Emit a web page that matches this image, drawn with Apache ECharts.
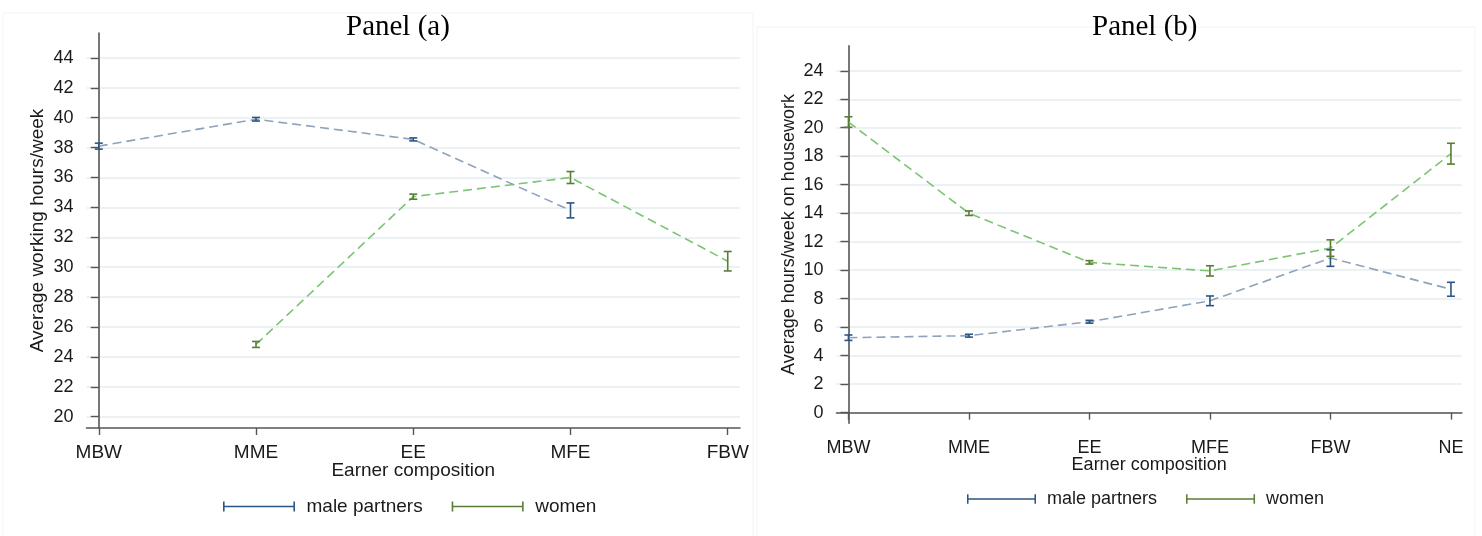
<!DOCTYPE html>
<html>
<head>
<meta charset="utf-8">
<script src="https://cdn.jsdelivr.net/npm/echarts@6/dist/echarts.min.js"></script>
<style>
html,body{margin:0;padding:0;background:#fff;}
#chart{width:1482px;height:536px;}
</style>
</head>
<body>
<div id="chart"></div>
<script>
// ---- data ----
const catsA = ['MBW', 'MME', 'EE', 'MFE', 'FBW'];
const maleA = [38.1, 39.9, 38.55, 33.8, null];
const maleAErr = [0.2, 0.12, 0.1, 0.5, null];
const womenA = [null, 24.83, 34.72, 36.0, 30.4];
const womenAErr = [null, 0.2, 0.17, 0.4, 0.65];
const yTicksA = [20, 22, 24, 26, 28, 30, 32, 34, 36, 38, 40, 42, 44];

const catsB = ['MBW', 'MME', 'EE', 'MFE', 'FBW', 'NE'];
const maleB = [5.26, 5.4, 6.38, 7.85, 10.85, 8.66];
const maleBErr = [0.19, 0.1, 0.1, 0.34, 0.58, 0.49];
const womenB = [20.4, 14.0, 10.55, 9.95, 11.55, 18.18];
const womenBErr = [0.37, 0.16, 0.12, 0.36, 0.58, 0.73];
const yTicksB = [0, 2, 4, 6, 8, 10, 12, 14, 16, 18, 20, 22, 24];

const seriesNames = ['male partners', 'women'];
const titles = ['Panel (a)', 'Panel (b)'];
const yNames = ['Average working hours/week', 'Average hours/week on housework'];
const xName = 'Earner composition';

// ---- styles ----
const maleLine = '#8ea2bb', maleBar = '#2b5683';
const womenLine = '#7cc474', womenBar = '#5a7d35';
const axisCol = '#555555', gridCol = '#e6eef1', textCol = '#1a1a1a';
const legendIcon = 'path://M0,4.2 L72,4.2 L72,5.8 L0,5.8 Z M0,0 L1.6,0 L1.6,10 L0,10 Z M70.4,0 L72,0 L72,10 L70.4,10 Z';

function pts(vals) { return vals.map((v, i) => v == null ? [i, null] : [i, v]); }
function errs(vals, e) {
  const out = [];
  vals.forEach((v, i) => { if (v != null) out.push([i, v - e[i], v + e[i]]); });
  return out;
}
function errRender(color) {
  return function (params, api) {
    const lo = api.coord([api.value(0), api.value(1)]);
    const hi = api.coord([api.value(0), api.value(2)]);
    const w = 4;
    const st = { stroke: color, lineWidth: 1.6 };
    return {
      type: 'group',
      children: [
        { type: 'line', shape: { x1: lo[0], y1: lo[1], x2: hi[0], y2: hi[1] }, style: st },
        { type: 'line', shape: { x1: lo[0] - w, y1: lo[1], x2: lo[0] + w, y2: lo[1] }, style: st },
        { type: 'line', shape: { x1: hi[0] - w, y1: hi[1], x2: hi[0] + w, y2: hi[1] }, style: st }
      ]
    };
  };
}

function xAxisDef(idx, cats, min, max, fs, nameGap, margin) {
  const ticks = cats.map((c, i) => i);
  return {
    type: 'value', gridIndex: idx, min: min, max: max,
    name: xName, nameLocation: 'middle', nameGap: nameGap, nameMoveOverlap: false,
    nameTextStyle: { fontFamily: 'Liberation Sans', fontSize: fs, color: textCol },
    axisLine: { show: true, lineStyle: { color: axisCol, width: 1.6 } },
    axisTick: { show: true, length: 7, customValues: ticks, lineStyle: { color: axisCol, width: 1.4 } },
    axisLabel: { customValues: ticks, margin: margin, fontFamily: 'Liberation Sans', fontSize: fs, color: textCol,
      formatter: v => cats[Math.round(v)] },
    splitLine: { show: false }
  };
}
function yAxisDef(idx, ticks, min, max, name, fs, nameFs, nameGap, margin) {
  return {
    type: 'value', gridIndex: idx, min: min, max: max,
    name: name, nameLocation: 'middle', nameGap: nameGap, nameMoveOverlap: false,
    nameTextStyle: { fontFamily: 'Liberation Sans', fontSize: nameFs, color: textCol },
    axisLine: { show: true, lineStyle: { color: axisCol, width: 1.6 } },
    axisTick: { show: true, length: 8, customValues: ticks, lineStyle: { color: axisCol, width: 1.4 } },
    axisLabel: { customValues: ticks, margin: margin, fontFamily: 'Liberation Sans', fontSize: fs, color: textCol },
    splitLine: { show: true, lineStyle: { color: gridCol, width: 1.5 } }
  };
}
function lineSeries(name, data, color, idx) {
  return {
    name: name, type: 'line', xAxisIndex: idx, yAxisIndex: idx, data: data,
    showSymbol: false, symbol: 'none', connectNulls: false,
    lineStyle: { color: color, width: 1.6, type: [9, 5] }, itemStyle: { color: color }, z: 2
  };
}
function errSeries(name, data, color, idx) {
  return {
    name: name + ' ', type: 'custom', xAxisIndex: idx, yAxisIndex: idx, data: data,
    renderItem: errRender(color), z: 3, silent: true
  };
}
function legendDef(left, top, w, gap, fs) {
  return {
    left: left, top: top, padding: 0, itemWidth: w, itemHeight: 10, itemGap: gap,
    textStyle: { fontFamily: 'Liberation Sans', fontSize: fs, color: textCol, padding: [0, 0, 0, 6] },
    data: [
      { name: seriesNames[0], icon: legendIcon, itemStyle: { color: maleBar } },
      { name: seriesNames[1], icon: legendIcon, itemStyle: { color: womenBar } }
    ]
  };
}

const chart = echarts.init(document.getElementById('chart'), null, { renderer: 'canvas' });
chart.setOption({
  backgroundColor: '#ffffff',
  animation: false,
  graphic: [
    { type: 'rect', shape: { x: 3, y: 13, width: 750, height: 530 }, style: { fill: 'none', stroke: '#f3f3f3', lineWidth: 1 }, z: -10 },
    { type: 'rect', shape: { x: 757, y: 27, width: 718, height: 515 }, style: { fill: 'none', stroke: '#f3f3f3', lineWidth: 1 }, z: -10 }
  ],
  title: [
    { text: titles[0], left: 341, top: 8, textStyle: { fontFamily: 'Liberation Serif', fontWeight: 'normal', fontSize: 29, color: '#000' } },
    { text: titles[1], left: 1087, top: 8, textStyle: { fontFamily: 'Liberation Serif', fontWeight: 'normal', fontSize: 29, color: '#000' } }
  ],
  grid: [
    { left: 86.5, right: 742, top: 33, bottom: 108 },
    { left: 836.5, right: 20.2, top: 45.7, bottom: 112.7 }
  ],
  xAxis: [
    xAxisDef(0, catsA, -0.078, 4.078, 19, 33, 15.5),
    xAxisDef(1, catsB, -0.099, 5.09, 18, 32.5, 15.5)
  ],
  yAxis: [
    yAxisDef(0, yTicksA, 19.24, 45.67, yNames[0], 18, 19, 39.5, 13),
    yAxisDef(1, yTicksB, -0.75, 25.76, yNames[1], 18, 18, 38, 13)
  ],
  legend: [
    legendDef(223, 497, 73, 29, 19),
    legendDef(967, 490, 69, 29, 18)
  ],
  series: [
    lineSeries(seriesNames[0], pts(maleA), maleLine, 0),
    lineSeries(seriesNames[1], pts(womenA), womenLine, 0),
    errSeries(seriesNames[0], errs(maleA, maleAErr), maleBar, 0),
    errSeries(seriesNames[1], errs(womenA, womenAErr), womenBar, 0),
    lineSeries(seriesNames[0], pts(maleB), maleLine, 1),
    lineSeries(seriesNames[1], pts(womenB), womenLine, 1),
    errSeries(seriesNames[0], errs(maleB, maleBErr), maleBar, 1),
    errSeries(seriesNames[1], errs(womenB, womenBErr), womenBar, 1)
  ]
});
</script>
</body>
</html>
